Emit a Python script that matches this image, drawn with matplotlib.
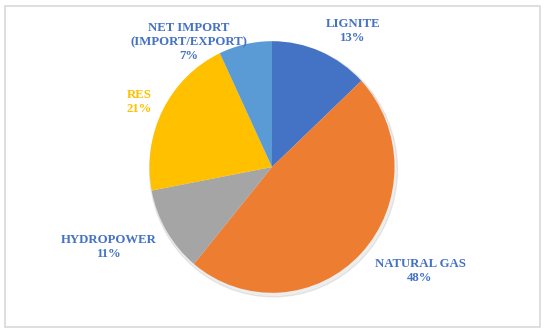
import matplotlib
matplotlib.use("Agg")
import matplotlib.pyplot as plt
from matplotlib.patches import Rectangle, Ellipse

categories = ["LIGNITE", "NATURAL GAS", "HYDROPOWER", "RES", "NET IMPORT\n(IMPORT/EXPORT)"]
values = [13, 48, 11, 21, 7]
colors = ["#4472C4", "#ED7D31", "#A5A5A5", "#FFC000", "#5B9BD5"]
label_colors = ["#4472C4", "#4472C4", "#4472C4", "#FFC000", "#4472C4"]
label_pos = [(353, 31), (420, 271), (109, 247), (139, 102), (189, 42)]

W, H = 550, 334
fig = plt.figure(figsize=(W / 100, H / 100), dpi=100)

# pie axes (slight vertical stretch as in the reference)
ky = 1.027
pax = fig.add_axes([0, 0, 1, 1])
cx, cy, r = 272, (H - 167) / ky, 122.5
pax.add_patch(Ellipse((cx + 1.5, cy - 2.5), 2 * r + 3, 2 * r + 3, color="#000000", alpha=0.07, zorder=0))
pax.pie(values, colors=colors, startangle=90, counterclock=False,
        center=(cx, cy), radius=r, wedgeprops=dict(linewidth=0), frame=True)
pax.set_xlim(0, W)
pax.set_ylim(0, H / ky)
pax.set_aspect("auto")
pax.axis("off")

# overlay axes in pixel coordinates for text and frame
tax = fig.add_axes([0, 0, 1, 1], facecolor="none")
tax.set_xlim(0, W)
tax.set_ylim(H, 0)
tax.axis("off")
for cat, val, col, (px, py) in zip(categories, values, label_colors, label_pos):
    tax.text(px, py, f"{cat}\n{val}%", ha="center", va="center", color=col,
             fontsize=9.2, fontweight="bold", family="Liberation Serif", linespacing=1.25)
tax.add_patch(Rectangle((5, 6), 535, 321, fill=False, edgecolor="#D9D9D9", linewidth=1.2))

fig.savefig("out.png", dpi=100)
